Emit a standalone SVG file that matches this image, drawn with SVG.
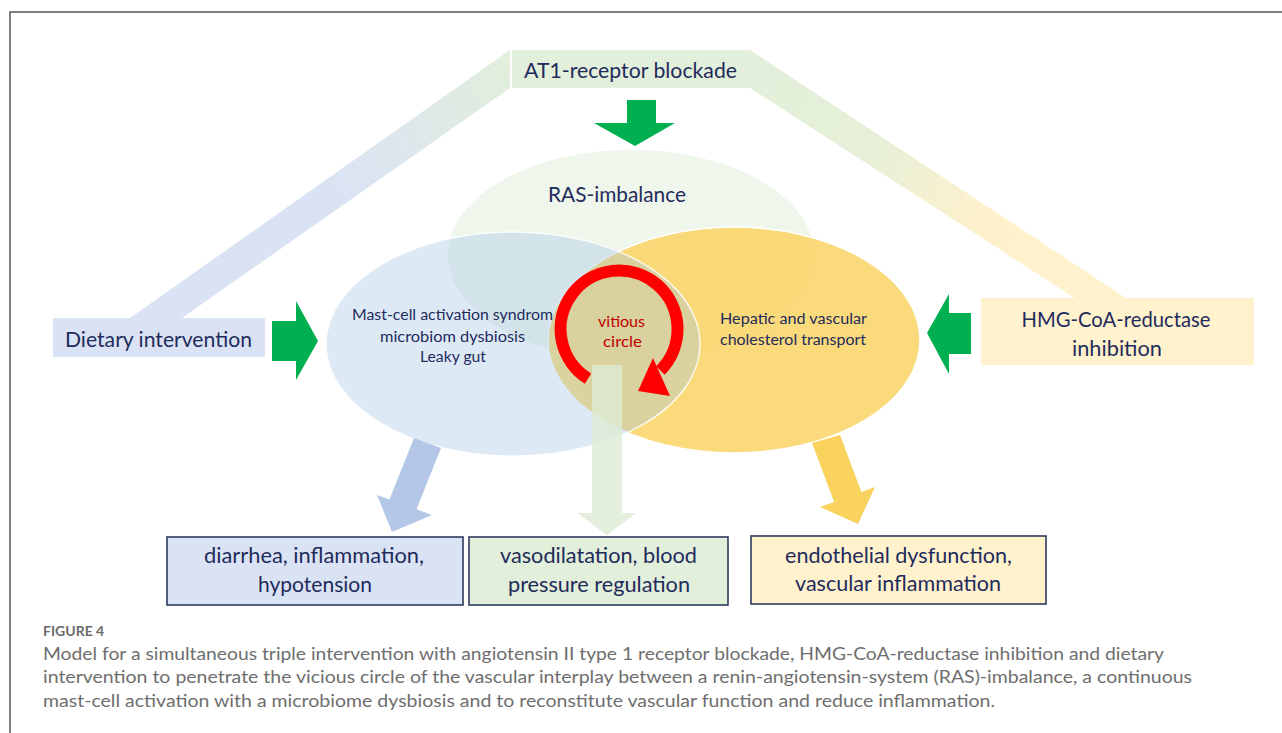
<svg xmlns="http://www.w3.org/2000/svg" width="1282" height="733" viewBox="0 0 1282 733">
<defs>
<linearGradient id="gL" gradientUnits="userSpaceOnUse" x1="510" y1="60" x2="150" y2="318">
<stop offset="0" stop-color="#e2efda"/><stop offset="0.3" stop-color="#dde7ec"/><stop offset="0.5" stop-color="#dae3f3"/><stop offset="1" stop-color="#dae3f3"/>
</linearGradient>
<linearGradient id="gR" gradientUnits="userSpaceOnUse" x1="750" y1="60" x2="1100" y2="298">
<stop offset="0" stop-color="#e2efda"/><stop offset="0.35" stop-color="#e6f0d8"/><stop offset="0.65" stop-color="#fdf1cc"/><stop offset="1" stop-color="#fff2cc"/>
</linearGradient>
<style>
.t{font-family:Lato,"Open Sans","Liberation Sans",sans-serif;fill:#1f2b5c;text-anchor:middle}
.big{font-size:21px}
.sm{font-size:14.5px}
.cap{font-family:Lato,"Open Sans","Liberation Sans",sans-serif;fill:#6e6e6e;font-size:17.5px}
.gar{fill:#00b050}
.box{stroke:#2e3b5e;stroke-width:1.6}
</style>
</defs>
<rect width="1282" height="733" fill="#ffffff"/>
<path d="M10,733 V12 H1282" fill="none" stroke="#555555" stroke-width="1.5"/>

<g id="connectors">
<polygon points="510,50 510,88 182,318 130,318" fill="url(#gL)"/>
<polygon points="750,50 1126,298 1075,298 750,88" fill="url(#gR)"/>
</g>

<g id="ras-imbalance">
<ellipse cx="631" cy="255" rx="184" ry="106" fill="#e2efda" fill-opacity="0.55" stroke="#ffffff" stroke-width="1.5"/>
<text class="t big" x="617" y="202" textLength="138" lengthAdjust="spacingAndGlyphs">RAS-imbalance</text>
</g>
<g id="cholesterol">
<ellipse cx="734" cy="340" rx="186" ry="113" fill="#f9d66c" fill-opacity="0.9" stroke="#ffffff" stroke-width="1.5"/>
</g>
<g id="mast-cell">
<ellipse cx="513" cy="344" rx="187" ry="112" fill="#9dc3e6" fill-opacity="0.35" stroke="#ffffff" stroke-opacity="0.8" stroke-width="1.5"/>
</g>

<g id="connectors-arrows">
<polygon points="592,365 622,365 622,513 636,513 607,535 577,513 592,513" fill="#dcebd3" fill-opacity="0.8"/>
<polygon points="414,438 441,448 416.5,509.3 432,515 392,532 377,495 389.4,499.5" fill="#b4c7e7"/>
<polygon points="812,443 840,435 861.4,491.9 875,487 858,524 820,507 834.1,501.9" fill="#f9d35e"/>
<polygon class="gar" points="627,100 656,100 656,123 675,123 635,146 594,123 627,123"/>
<polygon class="gar" points="272,321 296,321 296,301 318,341 296,380 296,361 272,361"/>
<polygon class="gar" points="971,313 949,313 949,294 927,333 949,374 949,354 971,354"/>
</g>

<g id="mast-cell-text">
<text class="t sm" x="452.5" y="320" textLength="201" lengthAdjust="spacingAndGlyphs">Mast-cell activation syndrom</text>
<text class="t sm" x="452.5" y="342" textLength="145" lengthAdjust="spacingAndGlyphs">microbiom  dysbiosis</text>
<text class="t sm" x="453" y="362" textLength="66" lengthAdjust="spacingAndGlyphs">Leaky gut</text>
</g>
<g id="cholesterol-text">
<text class="t sm" x="793.5" y="324" textLength="147" lengthAdjust="spacingAndGlyphs">Hepatic and vascular</text>
<text class="t sm" x="793" y="345" textLength="146" lengthAdjust="spacingAndGlyphs">cholesterol transport</text>
</g>

<g id="vicious-circle">
<path d="M588,378.6 A58.5,58.5 0 1 1 660.4,370.4" fill="none" stroke="#ff0000" stroke-width="12"/>
<polygon points="653,358 670,396 638,391" fill="#ff0000"/>
<text x="621.5" y="327" font-family="Lato,'Open Sans','Liberation Sans',sans-serif" font-size="15" fill="#c00000" text-anchor="middle" textLength="47" lengthAdjust="spacingAndGlyphs">vitious</text>
<text x="622.5" y="347" font-family="Lato,'Open Sans','Liberation Sans',sans-serif" font-size="15" fill="#c00000" text-anchor="middle" textLength="39" lengthAdjust="spacingAndGlyphs">circle</text>
</g>

<g id="at1">
<rect x="512" y="50" width="238" height="38" fill="#e2efda"/>
<text class="t" x="630.5" y="78" font-size="22" textLength="213" lengthAdjust="spacingAndGlyphs">AT1-receptor  blockade</text>
</g>
<g id="dietary">
<rect x="53" y="318" width="212" height="39" fill="#dae3f3"/>
<text class="t big" x="158.5" y="347" textLength="187" lengthAdjust="spacingAndGlyphs">Dietary intervention</text>
</g>
<g id="hmg">
<rect x="981" y="298" width="273" height="67" fill="#fff2cc"/>
<text class="t big" x="1116" y="327" textLength="189" lengthAdjust="spacingAndGlyphs">HMG-CoA-reductase</text>
<text class="t big" x="1117" y="356" textLength="90" lengthAdjust="spacingAndGlyphs">inhibition</text>
</g>

<g id="out-diarrhea">
<rect class="box" x="167" y="537" width="296" height="68" fill="#dae3f3"/>
<text class="t big" x="314" y="563" textLength="220" lengthAdjust="spacingAndGlyphs">diarrhea, inflammation,</text>
<text class="t big" x="315" y="592" textLength="114" lengthAdjust="spacingAndGlyphs">hypotension</text>
</g>
<g id="out-vaso">
<rect class="box" x="469" y="537" width="259" height="68" fill="#e2efda"/>
<text class="t big" x="598.5" y="563" textLength="197" lengthAdjust="spacingAndGlyphs">vasodilatation, blood</text>
<text class="t big" x="599" y="592" textLength="182" lengthAdjust="spacingAndGlyphs">pressure  regulation</text>
</g>
<g id="out-endo">
<rect class="box" x="751" y="536" width="295" height="68" fill="#fff2cc"/>
<text class="t big" x="898.5" y="563" textLength="227" lengthAdjust="spacingAndGlyphs">endothelial  dysfunction,</text>
<text class="t big" x="898" y="591" textLength="206" lengthAdjust="spacingAndGlyphs">vascular inflammation</text>
</g>

<g id="caption">
<text x="43" y="636" font-family="Lato,'Open Sans','Liberation Sans',sans-serif" font-size="14" font-weight="bold" fill="#6b6b6b">FIGURE 4</text>
<text class="cap" x="43" y="660" textLength="1121" lengthAdjust="spacingAndGlyphs">Model for a simultaneous triple intervention with angiotensin II type 1 receptor blockade, HMG-CoA-reductase inhibition and dietary</text>
<text class="cap" x="43" y="683" textLength="1149" lengthAdjust="spacingAndGlyphs">intervention to penetrate the vicious circle of the vascular interplay between a renin-angiotensin-system (RAS)-imbalance, a continuous</text>
<text class="cap" x="43" y="707" textLength="952" lengthAdjust="spacingAndGlyphs">mast-cell activation with a microbiome dysbiosis and to reconstitute vascular function and reduce inflammation.</text>
</g>
</svg>
